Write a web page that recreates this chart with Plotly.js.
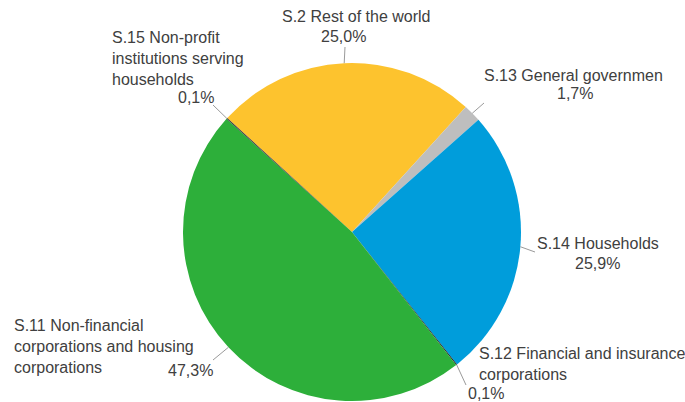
<!DOCTYPE html>
<html><head><meta charset="utf-8">
<script src="https://cdn.plot.ly/plotly-3.0.1.min.js"></script>
<style>html,body{margin:0;padding:0;background:#fff}#chart{width:685px;height:402px}</style>
</head><body><div id="chart"></div>
<script>
// Data (clockwise from the top-left boundary)
const sectors = ["S.2 Rest of the world", "S.13 General governmen", "S.14 Households",
  "S.12 Financial and insurance corporations", "S.11 Non-financial corporations and housing corporations",
  "S.15 Non-profit institutions serving households"];
const shares = [25.0, 1.7, 25.9, 0.1, 47.3, 0.1];
const shareLabels = ["25,0%", "1,7%", "25,9%", "0,1%", "47,3%", "0,1%"];
const nameLabels = ["S.2 Rest of the world", "S.13 General governmen", "S.14 Households",
  "S.12 Financial and insurance<br>corporations", "S.11 Non-financial<br>corporations and housing<br>corporations",
  "S.15 Non-profit<br>institutions serving<br>households"];
const colors = ["#FDC32E", "#BEBEBE", "#009DDB", "#1a1a1a", "#2DAF3A", "#3a3a3a"];

const W = 685, H = 402;
const rotation = -47.6;
const cx = 352, cy = 232, R = 169;
const px = x => x / W, py = y => 1 - y / H;

// label layout (pixel anchors): name pos, pct pos, leader outer end, where on slice (mid or end)
const lay = [
  {n:[356,17,'center'], p:[343,37,'center'], o:[345,47], at:'mid'},
  {n:[573,75,'center'], p:[575,93,'center'], o:[484,103], at:'mid'},
  {n:[598,243,'center'], p:[597,263,'center'], o:[535,252], at:'mid'},
  {n:[477,364,'left'], p:[466,393,'left'], o:[466,385], at:'mid'},
  {n:[12,346,'left'], p:[166,370,'left'], o:[213,360], at:'mid'},
  {n:[110,59,'left'], p:[176,97,'left'], o:[213,105], at:'mid'}
];

const total = shares.reduce((a,b)=>a+b,0);
let cum = 0;
const annotations = [], shapes = [];
const font = {family: "Liberation Sans, Arial, sans-serif", size: 16, color: "#404040"};
shares.forEach((v,i) => {
  const mid = rotation + (cum + v/2) / total * 360;
  cum += v;
  const a = mid * Math.PI / 180;
  const ix = cx + R * Math.sin(a), iy = cy - R * Math.cos(a);
  const L = lay[i];
  shapes.push({type:'line', xref:'paper', yref:'paper', x0:px(ix), y0:py(iy), x1:px(L.o[0]), y1:py(L.o[1]),
    line:{color:'#9a9a9a', width:1}});
  annotations.push({xref:'paper', yref:'paper', x:px(L.n[0]), y:py(L.n[1]), xanchor:L.n[2], yanchor:'middle',
    text:nameLabels[i], showarrow:false, align:L.n[2], font:font});
  annotations.push({xref:'paper', yref:'paper', x:px(L.p[0]), y:py(L.p[1]), xanchor:L.p[2], yanchor:'middle',
    text:shareLabels[i], showarrow:false, align:L.p[2], font:font});
});

const trace = {
  type: 'pie', labels: sectors, values: shares, sort: false, direction: 'clockwise',
  rotation: rotation, textinfo: 'none', textposition: 'none', hoverinfo: 'label+percent',
  marker: {colors: colors, line: {width: 0}},
  domain: {x: [px(cx - R), px(cx + R)], y: [py(cy + R), py(cy - R)]}
};
Plotly.newPlot('chart', [trace], {
  width: W, height: H, margin: {l:0, r:0, t:0, b:0}, showlegend: false,
  paper_bgcolor: '#fff', annotations: annotations, shapes: shapes
}, {displayModeBar: false, staticPlot: true});
</script></body></html>
